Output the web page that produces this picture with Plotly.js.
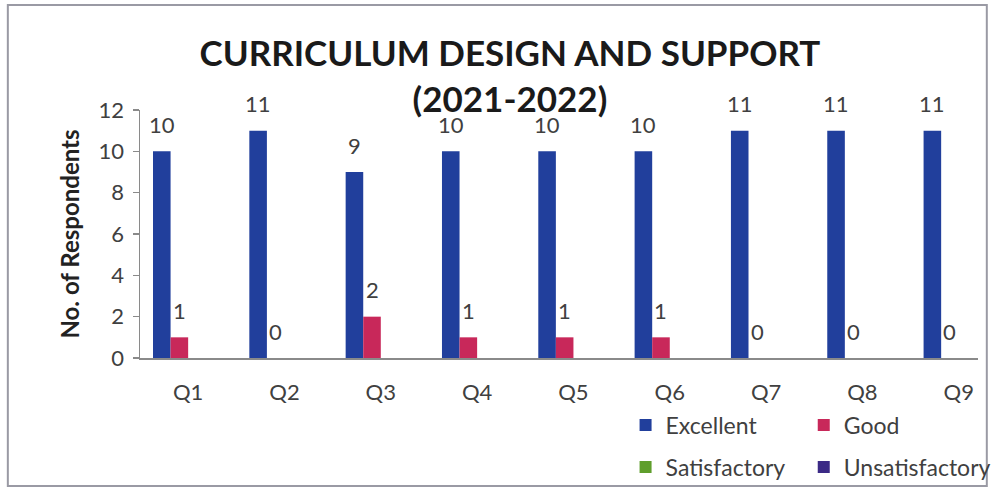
<!DOCTYPE html>
<html>
<head>
<meta charset="utf-8">
<script src="https://cdn.plot.ly/plotly-3.0.1.min.js"></script>
<style>html,body{margin:0;padding:0;background:#fff;}#chart{width:996px;height:490px;}</style>
</head>
<body>
<div id="chart"></div>
<script>
const categories = ["Q1","Q2","Q3","Q4","Q5","Q6","Q7","Q8","Q9"];
const excellent = [10, 11, 9, 10, 10, 10, 11, 11, 11];
const good = [1, 0, 2, 1, 1, 1, 0, 0, 0];
const satisfactory = [null, null, null, null, null, null, null, null, null];
const unsatisfactory = [null, null, null, null, null, null, null, null, null];
const yTicks = [0, 2, 4, 6, 8, 10, 12];

const FONT = "Lato, 'Open Sans', sans-serif";
const labelFont = {family: FONT, size: 22, color: "#404040"};
const BARGAP = 0.27;

const series = [
  {name: "Excellent", y: excellent, color: "#213f9c", legend: "legend", labels: true},
  {name: "Good", y: good, color: "#c8285a", legend: "legend2", labels: true},
  {name: "Satisfactory", y: satisfactory, color: "#5f9e2c", legend: "legend3", labels: false},
  {name: "Unsatisfactory", y: unsatisfactory, color: "#3b2a86", legend: "legend4", labels: false}
];

const data = series.map(s => ({
  type: "bar", name: s.name, x: categories, y: s.y,
  marker: {color: s.color, line: {width: 0}},
  legend: s.legend,
  hoverinfo: "x+y+name"
}));

// value labels placed over the centre of each bar in its group
const nSeries = series.length;
const barW = (1 - BARGAP) / nSeries;
const annotations = [];
series.forEach((s, k) => {
  if (!s.labels) return;
  const off = -(1 - BARGAP) / 2 + barW * (k + 0.5);
  s.y.forEach((v, i) => {
    if (v === null) return;
    annotations.push({
      xref: "x", yref: "y", x: i + off, y: v, text: String(v),
      showarrow: false, yanchor: "middle", xanchor: "center", yshift: 27,
      font: labelFont
    });
  });
});

const plotL = 140, plotR = 996, plotT = 110, plotB = 358;
const pw = plotR - plotL, ph = plotB - plotT;
const px = v => (v - plotL) / pw;
const py = v => (plotB - v) / ph;

function leg(xp, yp) {
  return {x: px(xp), y: py(yp), xref: "paper", yref: "paper", xanchor: "left", yanchor: "middle",
          font: {family: FONT, size: 23, color: "#404040"}, bgcolor: "rgba(0,0,0,0)", itemwidth: 30};
}

const layout = {
  width: 996, height: 490,
  margin: {l: plotL, r: 0, t: plotT, b: 490 - plotB, pad: 0},
  paper_bgcolor: "#fff", plot_bgcolor: "#fff",
  font: {family: FONT, color: "#404040"},
  title: {
    text: "<b>CURRICULUM DESIGN AND SUPPORT<br>(2021-2022)</b>",
    x: 0.512, xref: "container", xanchor: "center",
    y: 0.865, yref: "container", yanchor: "top",
    font: {family: FONT, size: 35, color: "#1a1a1a", lineposition: "none"}
  },
  barmode: "group", bargap: BARGAP, bargroupgap: 0,
  xaxis: {
    type: "category", range: [-0.5, 8.2],
    showline: true, linecolor: "#8a8a8a", linewidth: 1.5,
    ticks: "", showgrid: false, zeroline: false,
    tickfont: labelFont, ticklabelstandoff: 14, fixedrange: true
  },
  yaxis: {
    range: [0, 12], tickvals: yTicks,
    showline: true, linecolor: "#8a8a8a", linewidth: 1.5,
    ticks: "outside", ticklen: 6, tickcolor: "#8a8a8a", tickwidth: 1.5,
    showgrid: false, zeroline: false,
    tickfont: labelFont, ticklabelstandoff: 4,
    title: {text: "<b>No. of Respondents</b>", font: {family: FONT, size: 24, color: "#222"}, standoff: 12},
    fixedrange: true
  },
  showlegend: true,
  legend: leg(636, 425),
  legend2: leg(818, 425),
  legend3: leg(636, 467),
  legend4: leg(818, 467),
  annotations: annotations,
  shapes: [{
    type: "rect", xref: "paper", yref: "paper",
    x0: px(5), x1: px(1005), y0: py(486), y1: py(5),
    line: {color: "#9a9aa4", width: 2}, fillcolor: "rgba(0,0,0,0)", layer: "below"
  }]
};

Plotly.newPlot("chart", data, layout, {displayModeBar: false, staticPlot: true});
</script>
</body>
</html>
